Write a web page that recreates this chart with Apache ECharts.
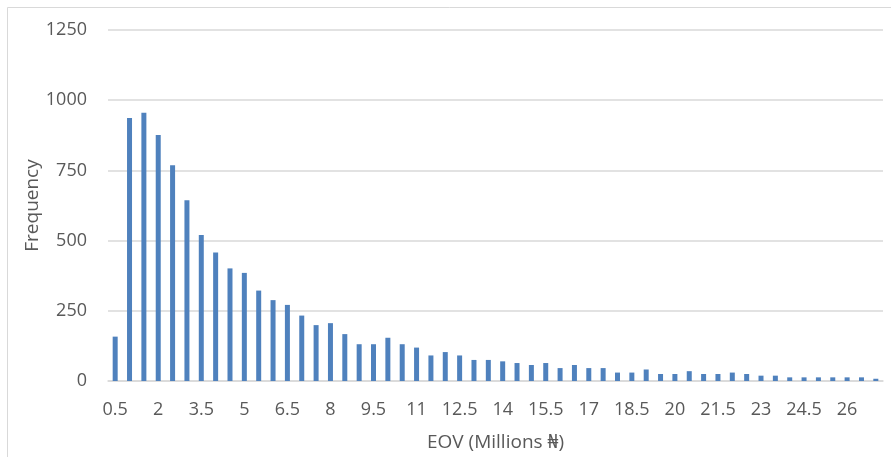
<!DOCTYPE html>
<html>
<head>
<meta charset="utf-8">
<script src="https://cdn.jsdelivr.net/npm/echarts@6/dist/echarts.min.js"></script>
<style>html,body{margin:0;padding:0;background:#fff}#c{width:891px;height:457px}</style>
</head>
<body>
<div id="c"></div>
<script>
const categories = ['0.5','1','1.5','2','2.5','3','3.5','4','4.5','5','5.5','6','6.5','7','7.5','8','8.5','9','9.5','10','10.5','11','11.5','12','12.5','13','13.5','14','14.5','15','15.5','16','16.5','17','17.5','18','18.5','19','19.5','20','20.5','21','21.5','22','22.5','23','23.5','24','24.5','25','25.5','26','26.5','27'];
const frequency = [158,937,955,876,768,644,520,458,401,385,322,288,271,233,199,206,167,131,131,154,131,119,91,103,91,75,75,70,64,57,64,46,57,46,46,30,30,41,25,25,35,25,25,30,25,19,19,13,13,13,13,13,13,8];
const yTicks = {min:0, max:1250, interval:250};
const xTitle = 'EOV (Millions ₦)';
const yTitle = 'Frequency';

const font = '"Open Sans", "Noto Sans", sans-serif';
const chart = echarts.init(document.getElementById('c'), null, {renderer:'canvas'});
chart.setOption({
  animation:false,
  backgroundColor:'#fff',
  graphic:[{type:'rect', shape:{x:7.5,y:7.5,width:900,height:500}, style:{fill:'none', stroke:'#d9d9d9', lineWidth:1}, silent:true, z:-1}],
  grid:{left:108, right:8, top:30, bottom:76, containLabel:false, outerBoundsMode:'none'},
  xAxis:{
    type:'category', data:categories,
    axisTick:{show:false},
    axisLine:{lineStyle:{color:'#d9d9d9', width:1.5}},
    axisLabel:{interval:2, color:'#595959', fontFamily:font, fontSize:18, margin:20},
    name:xTitle, nameLocation:'middle', nameGap:52, nameMoveOverlap:false,
    nameTextStyle:{color:'#595959', fontFamily:font, fontSize:19}
  },
  yAxis:{
    type:'value', min:yTicks.min, max:yTicks.max, interval:yTicks.interval,
    axisLine:{show:false}, axisTick:{show:false},
    splitLine:{lineStyle:{color:'#d9d9d9', width:1.5}},
    axisLabel:{color:'#595959', fontFamily:font, fontSize:18, margin:21, formatter:function(v){return String(v);}},
    name:yTitle, nameLocation:'middle', nameGap:66, nameMoveOverlap:false,
    nameTextStyle:{color:'#595959', fontFamily:font, fontSize:19}
  },
  series:[{type:'bar', data:frequency, barWidth:5, itemStyle:{color:'#4f81bd'}}]
});
</script>
</body>
</html>
